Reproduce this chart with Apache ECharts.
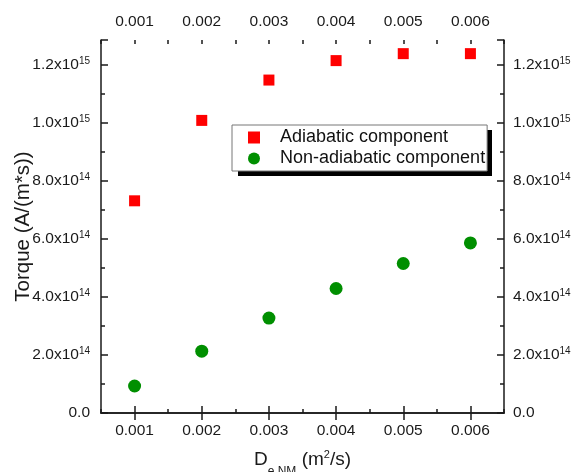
<!DOCTYPE html>
<html>
<head>
<meta charset="utf-8">
<script src="https://cdn.jsdelivr.net/npm/echarts@6/dist/echarts.min.js"></script>
<style>html,body{margin:0;padding:0;background:#fff}#c{width:575px;height:472px}</style>
</head>
<body>
<div id="c"></div>
<script>
const xValues = [0.001, 0.002, 0.003, 0.004, 0.005, 0.006];
const adiabatic = [7.31e14, 1.008e15, 1.147e15, 1.214e15, 1.238e15, 1.238e15];
const nonAdiabatic = [9.3e13, 2.13e14, 3.27e14, 4.29e14, 5.15e14, 5.86e14];
const xTickLabels = [0.001, 0.002, 0.003, 0.004, 0.005, 0.006];
const seriesNames = ['Adiabatic component', 'Non-adiabatic component'];

const FONT = 'Liberation Sans, Arial, sans-serif';
const INK = '#1a1a1a';
const chart = echarts.init(document.getElementById('c'));

function yFmt(v) {
  if (v === 0) return '0.0';
  const e = Math.floor(Math.log10(v) + 1e-9);
  const m = v / Math.pow(10, e);
  return m.toFixed(1) + 'x10{sup|' + e + '}';
}
const yLabelRich = {
  sup: { fontSize: 10, verticalAlign: 'top', lineHeight: 17, fontFamily: FONT, color: INK }
};
const axisLineStyle = { show: true, lineStyle: { color: INK, width: 1.5 } };

function mainX(pos, showName) {
  return {
    type: 'value', position: pos, min: 0.0005, max: 0.0065,
    axisLine: axisLineStyle,
    axisTick: { show: true, inside: true, length: 7, customValues: xTickLabels, lineStyle: { color: INK, width: 1.5 } },
    axisLabel: { show: true, customValues: xTickLabels, fontSize: 15.5, fontFamily: FONT, color: INK, margin: 10,
      formatter: v => v.toFixed(3) },
    splitLine: { show: false },
    name: showName ? 'D{sub|e NM} (m{sup|2}/s)' : '',
    nameLocation: 'middle', nameGap: 36, nameMoveOverlap: false,
    nameTextStyle: { fontSize: 19, fontFamily: FONT, color: INK, lineHeight: 22,
      rich: {
        sub: { fontSize: 12, verticalAlign: 'bottom', lineHeight: 14, padding: [0,0,-7,0], fontFamily: FONT, color: INK },
        sup: { fontSize: 11, verticalAlign: 'top', lineHeight: 22, fontFamily: FONT, color: INK }
      } }
  };
}
function minorX(pos) {
  return {
    type: 'value', position: pos, min: 0.0005, max: 0.0065, interval: 0.0005,
    axisLine: { show: false },
    axisTick: { show: true, inside: true, length: 4, lineStyle: { color: INK, width: 1.5 } },
    axisLabel: { show: false },
    splitLine: { show: false }
  };
}
function yAx(pos, showName) {
  return {
    type: 'value', position: pos, min: 0, max: 1.285e15, interval: 2e14,
    axisLine: axisLineStyle,
    axisTick: { show: true, inside: true, length: 7, lineStyle: { color: INK, width: 1.5 } },
    minorTick: { show: true, splitNumber: 2, length: 4, lineStyle: { color: INK, width: 1.5 } },
    axisLabel: { show: true, fontSize: 15.5, fontFamily: FONT, color: INK, lineHeight: 17,
      margin: pos === 'left' ? 11 : 9,
      formatter: yFmt, rich: yLabelRich,
      showMaxLabel: false },
    splitLine: { show: false }, minorSplitLine: { show: false },
    name: showName ? 'Torque (A/(m*s))' : '',
    nameLocation: 'middle', nameGap: 67, nameMoveOverlap: false,
    nameTextStyle: { fontSize: 20.5, fontFamily: FONT, color: INK }
  };
}

chart.setOption({
  animation: false,
  backgroundColor: '#fff',
  grid: { left: 101, right: 71, top: 40, bottom: 59, containLabel: false, outerBoundsMode: 'none' },
  xAxis: [mainX('bottom', true), mainX('top', false), minorX('bottom'), minorX('top')],
  yAxis: [yAx('left', true), yAx('right', false)],
  graphic: [
    { type: 'rect', z: 3, silent: true, shape: { x: 238, y: 130, width: 254, height: 46 }, style: { fill: '#000' } }
  ],
  legend: {
    orient: 'vertical', left: 232, top: 125, z: 5,
    data: [
      { name: seriesNames[0], icon: 'rect' },
      { name: seriesNames[1], icon: 'circle' }
    ],
    itemWidth: 12, itemHeight: 12, itemGap: 0,
    padding: [2, 2, 2, 16],
    backgroundColor: '#fff', borderColor: '#777', borderWidth: 1, borderRadius: 0,
    textStyle: { fontSize: 18, fontFamily: FONT, color: '#111', lineHeight: 21, padding: [0,0,0,15] }
  },
  series: [
    { name: seriesNames[0], type: 'scatter', xAxisIndex: 0, yAxisIndex: 0, symbol: 'rect', symbolSize: 11,
      itemStyle: { color: '#ff0000', opacity: 1 }, data: xValues.map((x, i) => [x, adiabatic[i]]) },
    { name: seriesNames[1], type: 'scatter', xAxisIndex: 0, yAxisIndex: 0, symbol: 'circle', symbolSize: 13,
      itemStyle: { color: '#008f00', opacity: 1 }, data: xValues.map((x, i) => [x, nonAdiabatic[i]]) }
  ]
});
</script>
</body>
</html>
